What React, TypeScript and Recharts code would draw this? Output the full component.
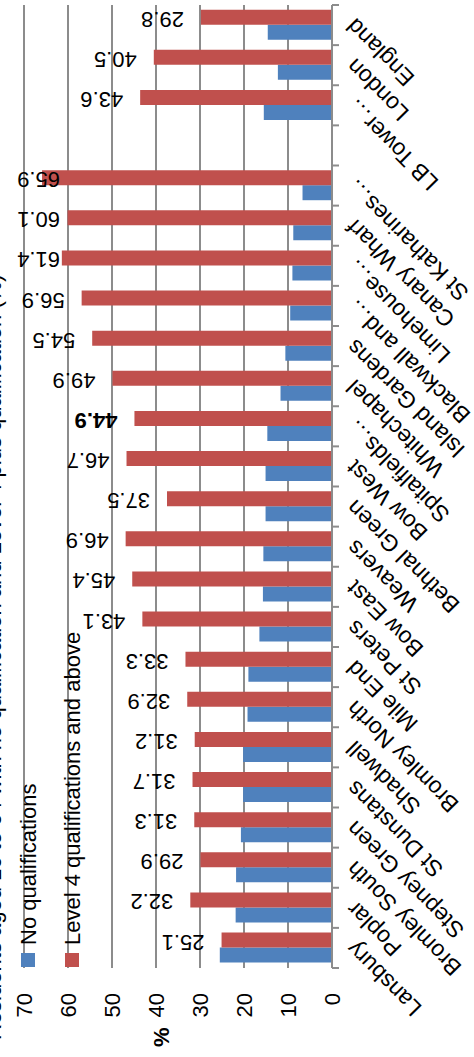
import React from "react";
import { BarChart, Bar, XAxis, YAxis, CartesianGrid, LabelList } from "recharts";

const wards = [
  "Lansbury", "Poplar", "Bromley South", "Stepney Green", "St Dunstans", "Shadwell",
  "Bromley North", "Mile End", "St Peters", "Bow East", "Weavers", "Bethnal Green",
  "Bow West", "Spitalfields…", "Whitechapel", "Island Gardens", "Blackwall and…",
  "Limehouse…", "Canary Wharf", "St Katharines…", "", "LB Tower…", "London", "England",
];
const noQualifications = [
  25.5, 21.9, 21.8, 20.7, 20.2, 20.2, 19.2, 19.0, 16.5, 15.7, 15.6, 15.1,
  15.1, 14.7, 11.7, 10.6, 9.5, 9.0, 8.8, 6.7, null, 15.5, 12.3, 14.6,
];
const level4Plus = [
  25.1, 32.2, 29.9, 31.3, 31.7, 31.2, 32.9, 33.3, 43.1, 45.4, 46.9, 37.5,
  46.7, 44.9, 49.9, 54.5, 56.9, 61.4, 60.1, 65.9, null, 43.6, 40.5, 29.8,
];
const valueTicks = [0, 10, 20, 30, 40, 50, 60, 70];
const seriesNames = ["No qualifications", "Level 4 qualifications and above"];
const seriesColors = ["#4F81BD", "#C0504D"];
const boldWard = "Spitalfields…";
const title = "Residents aged 16 to 64 with no qualification and Level 4 plus qualification (%)";

// chart is drawn landscape, then turned a quarter to fit the tall page
const W = 1057;
const H = 474;
const PLOT_LEFT = 89;
const PLOT_RIGHT = 1052;
const PLOT_BOTTOM = 332;
const BAND = (PLOT_RIGHT - PLOT_LEFT) / wards.length;
const AXIS = "#8c8c8c";
const FONT = "'Liberation Sans', Arial, sans-serif";

const data = wards.map((name, i) => ({
  name,
  noQual: noQualifications[i],
  level4: level4Plus[i],
}));

function CategoryTick(props: any) {
  const { x, payload, index } = props;
  const ax = x + 8;
  const ay = PLOT_BOTTOM + 24;
  return (
    <g>
      <line x1={x - BAND / 2} y1={PLOT_BOTTOM} x2={x - BAND / 2} y2={PLOT_BOTTOM + 7} stroke={AXIS} strokeWidth={2} />
      {index === wards.length - 1 && (
        <line x1={x + BAND / 2} y1={PLOT_BOTTOM} x2={x + BAND / 2} y2={PLOT_BOTTOM + 7} stroke={AXIS} strokeWidth={2} />
      )}
      <text
        x={ax}
        y={ay}
        textAnchor="end"
        transform={`rotate(-45 ${ax} ${ay})`}
        fontSize={23}
        fontFamily={FONT}
        fill="#000"
      >
        {payload.value}
      </text>
    </g>
  );
}

function ValueTick(props: any) {
  const { y, payload } = props;
  return (
    <text x={64} y={y} textAnchor="end" dominantBaseline="central" fontSize={22} fontFamily={FONT} fill="#000">
      {payload.value}
    </text>
  );
}

function Level4Label(props: any) {
  const { x, y, width, value, index } = props;
  if (value == null) return null;
  const cx = x + width / 2 - 2;
  const sy = Math.max(y - 17, 60);
  return (
    <text
      x={cx}
      y={sy}
      transform={`rotate(-90 ${cx} ${sy})`}
      textAnchor="start"
      dominantBaseline="central"
      fontSize={22}
      fontFamily={FONT}
      fontWeight={wards[index] === boldWard ? "bold" : "normal"}
      fill="#000"
    >
      {Number(value).toFixed(1)}
    </text>
  );
}

export default function App() {
  return (
    <div style={{ position: "fixed", left: 0, top: 0, width: H, height: W, overflow: "hidden", background: "#fff" }}>
      <div
        style={{
          position: "absolute",
          left: 0,
          top: 0,
          width: W,
          height: H,
          overflow: "hidden",
          transformOrigin: "0 0",
          transform: `translateY(${W}px) rotate(-90deg)`,
          background: "#fff",
        }}
      >
        <BarChart
          width={W}
          height={H}
          data={data}
          margin={{ top: 24, right: W - PLOT_RIGHT, left: 29, bottom: 0 }}
          barCategoryGap="13.5%"
          barGap={0}
        >
          <CartesianGrid vertical={false} stroke={AXIS} strokeWidth={2} />
          <XAxis
            dataKey="name"
            interval={0}
            height={H - PLOT_BOTTOM}
            axisLine={{ stroke: AXIS, strokeWidth: 2 }}
            tickLine={false}
            tick={<CategoryTick />}
          />
          <YAxis
            width={PLOT_LEFT - 29}
            domain={[0, 70]}
            ticks={valueTicks}
            axisLine={false}
            tickLine={false}
            tick={<ValueTick />}
          />
          <Bar dataKey="noQual" name={seriesNames[0]} fill={seriesColors[0]} isAnimationActive={false} />
          <Bar dataKey="level4" name={seriesNames[1]} fill={seriesColors[1]} isAnimationActive={false}>
            <LabelList dataKey="level4" content={<Level4Label />} />
          </Bar>
        </BarChart>
        <svg width={W} height={H} style={{ position: "absolute", left: 0, top: 0, pointerEvents: "none" }}>
          <text x={17} y={1} fontSize={22} fontFamily={FONT} fill="#000">
            {title}
          </text>
          <text x={10} y={161} dominantBaseline="central" fontSize={22} fontWeight="bold" fontFamily={FONT} fill="#000">
            %
          </text>
          {seriesNames.map((s, i) => (
            <g key={s}>
              <rect x={90} y={21 + i * 44} width={14} height={14} fill={seriesColors[i]} />
              <text x={112} y={28 + i * 44} dominantBaseline="central" fontSize={22} fontFamily={FONT} fill="#000">
                {s}
              </text>
            </g>
          ))}
        </svg>
      </div>
    </div>
  );
}
